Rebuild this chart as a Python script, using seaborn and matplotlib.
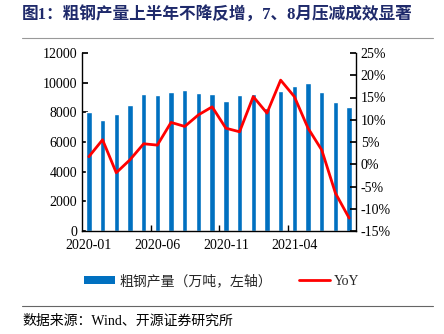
import matplotlib
matplotlib.use("Agg")
import matplotlib.pyplot as plt
import seaborn as sns
import pandas as pd
import numpy as np
from matplotlib.patches import Patch
from matplotlib.lines import Line2D

months = ["2020-01", "2020-02", "2020-03", "2020-04", "2020-05", "2020-06", "2020-07",
          "2020-08", "2020-09", "2020-10", "2020-11", "2020-12", "2021-01", "2021-02",
          "2021-03", "2021-04", "2021-05", "2021-06", "2021-07", "2021-08"]
output = [7990, 7480, 7910, 8520, 9240, 9170, 9350, 9510, 9280, 9240,
          8790, 9150, 9220, 8320, 9420, 9800, 9960, 9400, 8700, 8340]
yoy = [1.7, 5.5, -1.9, 1.0, 4.6, 4.3, 9.4, 8.5, 11.1, 12.9,
       8.1, 7.3, 15.2, 11.5, 18.9, 15.2, 8.1, 3.2, -6.5, -12.1]
tick_labels = ["2020-01", "2020-06", "2020-11", "2021-04"]

sns.set_theme(style="ticks")
plt.rcParams['font.family'] = ['Liberation Serif', 'Noto Sans CJK SC']
mix = ['Liberation Serif', 'Noto Sans CJK SC']

df = pd.DataFrame({"month": months, "output": output, "yoy": yoy})
df["x"] = np.arange(len(df))

fig = plt.figure(figsize=(4.44, 3.34), dpi=100)
ax = fig.add_axes([82/444, 1-231/334, (356-82)/444, (231-53)/334])

sns.barplot(data=df, x="x", y="output", color="#0070C0", width=0.4, ax=ax,
            saturation=1, native_scale=True)
ax.set_xlim(-0.5, 19.5)
ax.set_ylim(0, 12000)
ax.set_yticks(range(0, 12001, 2000))
ax.set_xticks([0, 5, 10, 15])
ax.set_xticklabels(tick_labels)
ax.set_xticks([4.5, 9.5, 14.5], minor=True)
ax.tick_params(axis='x', which='major', length=0, labelsize=10, pad=6, colors='black')
ax.tick_params(axis='x', which='minor', length=4, direction='in', color='black')
ax.tick_params(axis='y', direction='in', length=4, labelsize=10, colors='black')
ax.set_xlabel("")
ax.set_ylabel("")

ax2 = ax.twinx()
sns.lineplot(data=df, x="x", y="yoy", color="#FF0000", linewidth=2.0, ax=ax2)
ax2.set_ylim(-15, 25)
ax2.set_yticks(range(-15, 26, 5))
ax2.set_yticklabels([f"{v}%" for v in range(-15, 26, 5)])
ax2.tick_params(axis='y', direction='in', length=4, labelsize=10, colors='black')
ax2.set_ylabel("")
ax2.set_xlim(-0.5, 19.5)

for a in (ax, ax2):
    a.spines['top'].set_visible(False)
    for s in ('left', 'right', 'bottom'):
        a.spines[s].set_color('black')
        a.spines[s].set_linewidth(1.0)
ax.spines['right'].set_visible(False)
ax2.spines['left'].set_visible(False)
ax2.spines['bottom'].set_visible(False)

handles = [Patch(facecolor="#0070C0", edgecolor="none"),
           Line2D([0], [0], color="#FF0000", linewidth=2)]
fig.legend(handles, ["粗钢产量（万吨，左轴）", "YoY"], loc='center',
           bbox_to_anchor=(222/444, 1-281/334), ncol=2, frameon=False,
           prop={'family': mix, 'size': 10}, handlelength=2.2, handleheight=0.5,
           columnspacing=2.0, handletextpad=0.3)

fig.text(22/444, 1-15/334, "图1：粗钢产量上半年不降反增，7、8月压减成效显著",
         family=mix, fontsize=12, fontweight='bold', color='#1F2A6B', va='center', ha='left')
fig.add_artist(Line2D([22/444, 433/444], [1-38/334, 1-38/334], color='#999999', linewidth=0.8))
fig.add_artist(Line2D([22/444, 433/444], [1-306/334, 1-306/334], color='#666666', linewidth=0.8))
fig.text(22/444, 1-321/334, "数据来源：Wind、开源证券研究所",
         family=mix, fontsize=10, color='black', va='center', ha='left')

fig.savefig("out.png", dpi=100)
